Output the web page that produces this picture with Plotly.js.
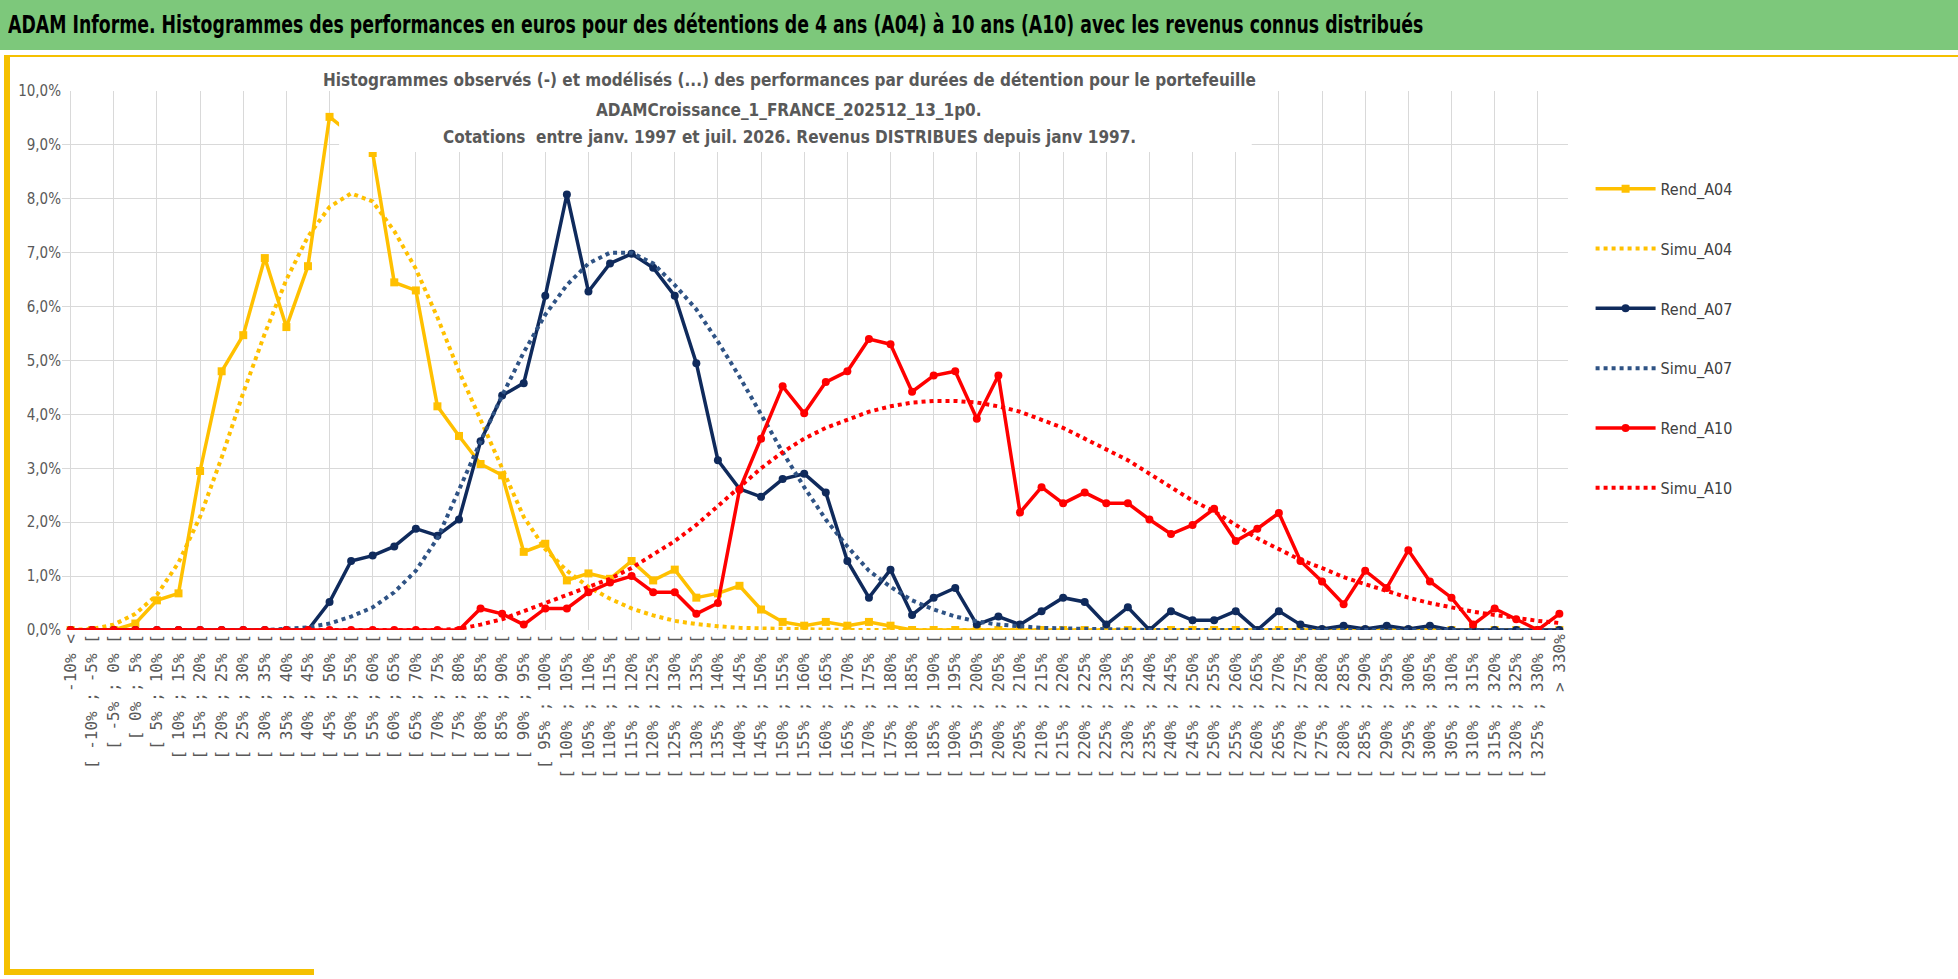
<!DOCTYPE html>
<html>
<head>
<meta charset="utf-8">
<script src="https://cdn.plot.ly/plotly-3.0.1.min.js"></script>
<style>
  body { margin: 0; width: 1958px; height: 979px; overflow: hidden; background: #fff; font-family: "DejaVu Sans Condensed", "Liberation Sans", sans-serif; }
  #banner { position: absolute; left: 0; top: 0; width: 1958px; height: 50px; background: #7dc87b; }
  #banner span { position: absolute; left: 8px; top: 0; color: #000; font-weight: bold; font-size: 25px; line-height: 50px; white-space: nowrap; transform: scaleX(0.77); transform-origin: left center; }
  #frameTop { position: absolute; left: 4px; top: 55px; width: 1954px; height: 2px; background: #f5c000; }
  #frameLeft { position: absolute; left: 4px; top: 55px; width: 6px; height: 920px; background: #f5c000; }
  #frameBottom { position: absolute; left: 4px; top: 969px; width: 310px; height: 6px; background: #f5c000; }
  #chart { position: absolute; left: 0; top: 0; width: 1958px; height: 979px; }
</style>
</head>
<body>
<div id="banner"><span>ADAM Informe. Histogrammes des performances en euros pour des détentions de 4 ans (A04) à 10 ans (A10) avec les revenus connus distribués</span></div>
<div id="frameTop"></div>
<div id="frameLeft"></div>
<div id="frameBottom"></div>
<div id="chart"></div>
<script>
// Catégories de performance
const categories = ['-10% <'];
for (let l = -10; l < 330; l += 5) categories.push('[ ' + l + '% ; ' + (l + 5) + '% [');
categories.push('> 330%');

// Valeurs observées et modélisées (en %)
const rendA04 = [0,0,0,0.12,0.55,0.68,2.95,4.8,5.47,6.9,5.62,6.75,9.52,9.2,8.85,6.45,6.3,4.15,3.6,3.08,
  2.87,1.45,1.6,0.92,1.05,0.95,1.28,0.92,1.12,0.6,0.68,0.82,0.38,0.15,0.08,0.15,0.08,0.15,0.08,0,
  0,0,0,0,0,0,0,0,0,0,0,0,0,0,0,0,0,0,0,0,0,0,0,0,0,0,0,0,0,0];
const simuA04 = [0,0.02,0.1,0.3,0.65,1.25,2.1,3.2,4.4,5.5,6.5,7.3,7.85,8.1,7.95,7.4,6.7,5.8,4.8,3.9,
  3.0,2.1,1.5,1.1,0.8,0.58,0.4,0.27,0.17,0.11,0.07,0.04,0.03,0.02,0.01,0,0,0,0,0,
  0,0,0,0,0,0,0,0,0,0,0,0,0,0,0,0,0,0,0,0,0,0,0,0,0,0,0,0,0,0];
const rendA07 = [0,0,0,0,0,0,0,0,0,0,0,0,0.52,1.28,1.38,1.55,1.88,1.75,2.05,3.5,
  4.35,4.58,6.2,8.08,6.28,6.8,6.98,6.72,6.2,4.95,3.15,2.62,2.47,2.8,2.9,2.55,1.28,0.6,1.12,0.28,
  0.6,0.78,0.1,0.25,0.1,0.35,0.6,0.52,0.1,0.42,0,0.35,0.18,0.18,0.35,0,0.35,0.1,0.02,0.08,
  0.02,0.08,0.02,0.08,0,0,0,0,0,0];
const simuA07 = [0,0,0,0,0,0,0,0,0,0,0.02,0.05,0.12,0.25,0.42,0.7,1.1,1.7,2.6,3.5,
  4.35,5.15,5.85,6.4,6.8,7.0,7.0,6.8,6.4,5.95,5.35,4.7,4.0,3.3,2.65,2.05,1.55,1.1,0.8,0.55,
  0.38,0.25,0.16,0.1,0.07,0.04,0.03,0.02,0.01,0,0,0,0,0,0,0,0,0,0,0,0,0,0,0,0,0,0,0,0,0];
const rendA10 = [0,0,0,0,0,0,0,0,0,0,0,0,0,0,0,0,0,0,0,0.4,
  0.3,0.1,0.4,0.4,0.7,0.88,1.0,0.7,0.7,0.3,0.5,2.6,3.55,4.52,4.02,4.6,4.8,5.4,5.3,4.42,
  4.72,4.8,3.92,4.72,2.18,2.65,2.35,2.55,2.35,2.35,2.05,1.78,1.95,2.25,1.65,1.88,2.17,1.28,0.9,0.48,
  1.1,0.78,1.48,0.9,0.6,0.1,0.4,0.2,0.0,0.3];
const simuA10 = [0,0,0,0,0,0,0,0,0,0,0,0,0,0,0,0,0,0,0.02,0.1,
  0.2,0.35,0.5,0.65,0.8,0.95,1.15,1.4,1.65,1.95,2.3,2.65,3.0,3.3,3.55,3.75,3.9,4.05,4.15,4.22,
  4.25,4.25,4.22,4.15,4.05,3.9,3.75,3.55,3.35,3.15,2.9,2.65,2.4,2.2,1.95,1.7,1.5,1.3,1.15,0.98,
  0.85,0.72,0.6,0.5,0.42,0.34,0.28,0.22,0.17,0.13];

const titleLines = [
  'Histogrammes observés (-) et modélisés (...) des performances par durées de détention pour le portefeuille',
  'ADAMCroissance_1_FRANCE_202512_13_1p0.',
  'Cotations  entre janv. 1997 et juil. 2026. Revenus DISTRIBUES depuis janv 1997.'
];

const YELLOW = '#ffc000', NAVY = '#0f2a5c', NAVY_DOT = '#2f5385', RED = '#ff0000';

function rend(name, y, color, symbol) {
  return { x: categories, y: y, name: name, legendgroup: name, type: 'scatter', mode: 'lines+markers',
    line: { color: color, width: 3.5 }, marker: { color: color, size: 8, symbol: symbol } };
}
function simu(name, y, color) {
  return { x: categories, y: y, name: name, legendgroup: name, type: 'scatter', mode: 'lines',
    line: { color: color, width: 4, dash: 'dot' } };
}

const data = [
  rend('Rend_A04', rendA04, YELLOW, 'square'),
  simu('Simu_A04', simuA04, YELLOW),
  rend('Rend_A07', rendA07, NAVY, 'circle'),
  simu('Simu_A07', simuA07, NAVY_DOT),
  rend('Rend_A10', rendA10, RED, 'circle'),
  simu('Simu_A10', simuA10, RED),
  // trace vide pour la grille verticale (une ligne toutes les deux catégories)
  { x: categories, y: categories.map(() => null), xaxis: 'x2', showlegend: false, hoverinfo: 'skip', type: 'scatter', mode: 'lines' }
];

// Lignes du titre, placées comme dans le graphique Excel
const titleY = [1.021, 0.965, 0.915];
const annotations = titleLines.map((t, i) => ({
  xref: 'paper', yref: 'paper', x: 0.483, y: titleY[i], xanchor: 'center', yanchor: 'middle',
  text: '<b>' + t + '</b>', showarrow: false, font: { size: 17, color: '#595959' }
}));

const layout = {
  width: 1958, height: 979,
  paper_bgcolor: 'rgba(0,0,0,0)', plot_bgcolor: 'rgba(0,0,0,0)',
  margin: { l: 62, r: 390, t: 91, b: 349 },
  font: { family: '"DejaVu Sans Condensed", "Liberation Sans", sans-serif', color: '#595959' },
  separators: ', ',
  showlegend: true,
  legend: { x: 1.015, y: 0.85, xanchor: 'left', yanchor: 'top', tracegroupgap: 36,
    font: { size: 16, color: '#404040' }, itemwidth: 60 },
  xaxis: { type: 'category', range: [-0.4, categories.length - 0.6], autorange: false, showgrid: false, tickangle: -90,
    tickfont: { size: 16, color: '#595959', family: 'DejaVu Sans Mono' },
    showline: false, zeroline: false, ticks: '' },
  xaxis2: { type: 'category', overlaying: 'x', matches: 'x', dtick: 2, showgrid: true, gridcolor: '#d9d9d9',
    showticklabels: false, ticks: '', zeroline: false },
  yaxis: { range: [0, 10], dtick: 1, tickformat: '.1f', ticksuffix: '%', gridcolor: '#d9d9d9', zeroline: false,
    tickfont: { size: 15, color: '#595959' }, showline: false },
  // fond blanc du bloc titre (il masque les courbes comme dans l'original)
  shapes: [{ type: 'rect', xref: 'paper', yref: 'paper', layer: 'above',
    x0: 0.184, x1: 0.79, y0: 0.887, y1: 1.046, fillcolor: '#ffffff', line: { width: 0 } }],
  annotations: annotations
};

Plotly.newPlot('chart', data, layout, { displayModeBar: false, staticPlot: true });
</script>
</body>
</html>
